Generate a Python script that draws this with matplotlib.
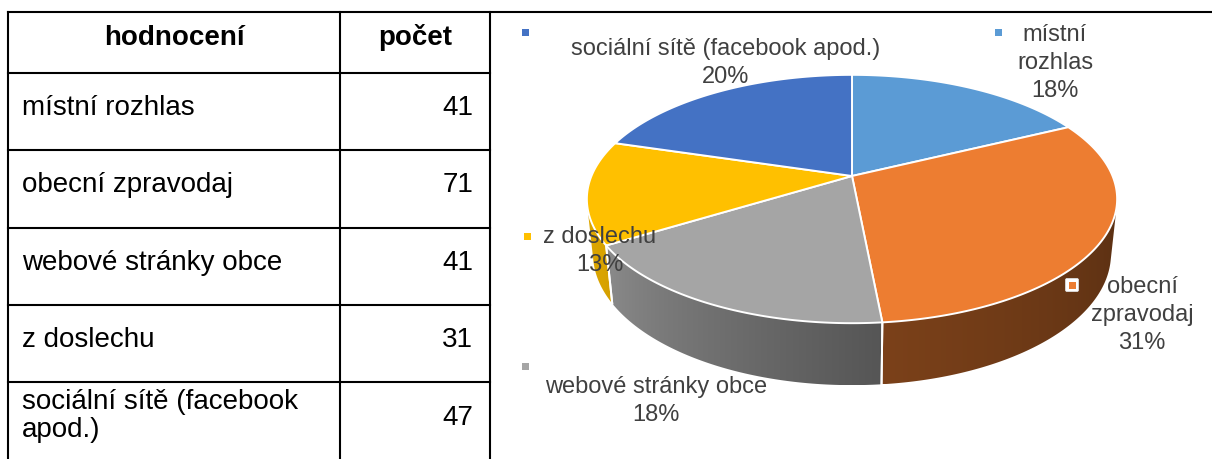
import numpy as np
import matplotlib
matplotlib.use("Agg")
import matplotlib.pyplot as plt
from matplotlib.patches import Polygon, Rectangle, FancyBboxPatch

# survey answers, in the order the pie is drawn (clockwise from 12 o'clock)
categories = ["místní rozhlas", "obecní zpravodaj", "webové stránky obce",
              "z doslechu", "sociální sítě (facebook apod.)"]
counts = [41, 71, 41, 31, 47]
table_labels = ["místní rozhlas", "obecní zpravodaj", "webové stránky obce",
                "z doslechu", "sociální sítě (facebook\napod.)"]
pie_labels = ["místní\nrozhlas", "obecní\nzpravodaj", "webové stránky obce",
              "z doslechu", "sociální sítě (facebook apod.)"]
header = ["hodnocení", "počet"]
colors = ["#5B9BD5", "#ED7D31", "#A5A5A5", "#FFC000", "#4472C4"]

FONT = "Liberation Sans"
W, H = 1212, 459

fig = plt.figure(figsize=(W / 100, H / 100), dpi=100)
ax = fig.add_axes([0, 0, 1, 1])
ax.axis("off")

# ---- table -------------------------------------------------------------
row_edges = [12, 73, 150, 228, 305, 382]
col_x = [8, 340, 490]
lw = 1.5
TFS = 20
ax.plot([col_x[0], W], [row_edges[0]] * 2, color="black", lw=lw)
for y in row_edges[1:]:
    ax.plot([col_x[0], col_x[-1]], [y, y], color="black", lw=lw)
for x in col_x:
    ax.plot([x, x], [row_edges[0], H], color="black", lw=lw)

ax.text((col_x[0] + col_x[1]) / 2, 45, header[0], ha="center", va="baseline",
        fontsize=TFS, fontweight="bold", family=FONT, color="black")
ax.text((col_x[1] + col_x[2]) / 2, 45, header[1], ha="center", va="baseline",
        fontsize=TFS, fontweight="bold", family=FONT, color="black")
for i, (lab, n) in enumerate(zip(table_labels, counts)):
    top = row_edges[i + 1]
    lines = lab.split("\n")
    if len(lines) > 1:
        for j, line in enumerate(lines):
            ax.text(col_x[0] + 14, top + 27 + 28 * j, line, ha="left",
                    va="baseline", fontsize=TFS, family=FONT, color="black")
        num_y = top + 43
    else:
        ax.text(col_x[0] + 14, top + 42, lab, ha="left", va="baseline",
                fontsize=TFS, family=FONT, color="black")
        num_y = top + 42
    ax.text(col_x[2] - 17, num_y, str(n), ha="right", va="baseline",
            fontsize=TFS, family=FONT, color="black")

# ---- 3D pie (perspective projection of a flat cylinder) ------------------
CX, CY, K = 852, 176, 1248
TILT = np.radians(27.4)
DIST = 4.79
THICK = 0.239


def project(phi, z=0.0):
    x = np.sin(phi)
    y = np.cos(phi)
    c, s = np.cos(TILT), np.sin(TILT)
    depth = y * c - z * s + DIST
    return CX + K * x / depth, CY - K * (y * s + z * c) / depth


def side_shade(deg):
    return np.interp(deg, [104, 175, 240, 256], [0.38, 0.52, 0.85, 0.87])


total = sum(counts)
bounds = np.concatenate([[0], np.cumsum(counts)]) / total * 2 * np.pi

# outer wall is visible where its normal faces the camera
lim = np.degrees(np.arccos(-1 / (DIST * np.cos(TILT))))
vis_lo, vis_hi = np.radians(lim), np.radians(360 - lim)

# screen x -> angle along the front rim, used for the wall gradient
rim_phi = np.linspace(vis_lo, vis_hi, 600)
rim_x, _ = project(rim_phi)

for i, col in enumerate(colors):
    a0, a1 = max(bounds[i], vis_lo), min(bounds[i + 1], vis_hi)
    if a1 <= a0:
        continue
    phis = np.linspace(a0, a1, 120)
    xt, yt = project(phis)
    xb, yb = project(phis[::-1], z=-THICK)
    wall = Polygon(np.column_stack([np.r_[xt, xb], np.r_[yt, yb]]),
                   closed=True, fc="none", ec="none", zorder=2)
    ax.add_patch(wall)
    x0, x1 = min(xt.min(), xb.min()), max(xt.max(), xb.max())
    y0, y1 = min(yt.min(), yb.min()), max(yt.max(), yb.max())
    xs = np.linspace(x0, x1, int(x1 - x0) + 2)
    ang = np.degrees(np.interp(xs, rim_x[::-1], rim_phi[::-1]))
    rgb = np.array(matplotlib.colors.to_rgb(col))
    grad = np.clip(side_shade(ang)[:, None] * rgb[None, :], 0, 1)[None, :, :]
    im = ax.imshow(grad, extent=(x0, x1, y1, y0), aspect="auto",
                   interpolation="bilinear", zorder=2)
    im.set_clip_path(wall)
    for b in (bounds[i], bounds[i + 1]):
        if vis_lo < b < vis_hi:
            ax.plot(*zip(project(b), project(b, z=-THICK)), color="white",
                    lw=1.4, zorder=3)

for i, col in enumerate(colors):
    phis = np.linspace(bounds[i], bounds[i + 1], 200)
    xs, ys = project(phis)
    pts = [(CX, CY)] + list(zip(xs, ys))
    ax.add_patch(Polygon(pts, closed=True, fc=col, ec="white", lw=1.4,
                         joinstyle="round", zorder=4))

# ---- data labels ---------------------------------------------------------
# (text centre x, first baseline y, marker x, marker y)
label_pos = [(1055, 41, 998, 32), (1142, 293, 1072, 285), (656, 393, 525, 366),
             (600, 243, 527, 236), (726, 55, 525, 32)]
for lab, n, col, (tx, ty, mx, my) in zip(pie_labels, counts, colors, label_pos):
    lines = lab.split("\n") + [f"{round(100 * n / total)}%"]
    for j, line in enumerate(lines):
        ax.text(tx, ty + 28 * j, line, ha="center", va="baseline", fontsize=17,
                family=FONT, color="#404040", zorder=6)
    if col == colors[1]:
        ax.add_patch(FancyBboxPatch((mx - 5, my - 5), 10, 10,
                                    boxstyle="round,pad=1.5", fc="white",
                                    ec="#dddddd", lw=0.6, zorder=5))
    ax.add_patch(Rectangle((mx - 3.5, my - 3.5), 7, 7, fc=col, ec="none",
                           zorder=6))

ax.set_xlim(0, W)
ax.set_ylim(H, 0)
fig.savefig("out.png", dpi=100)
